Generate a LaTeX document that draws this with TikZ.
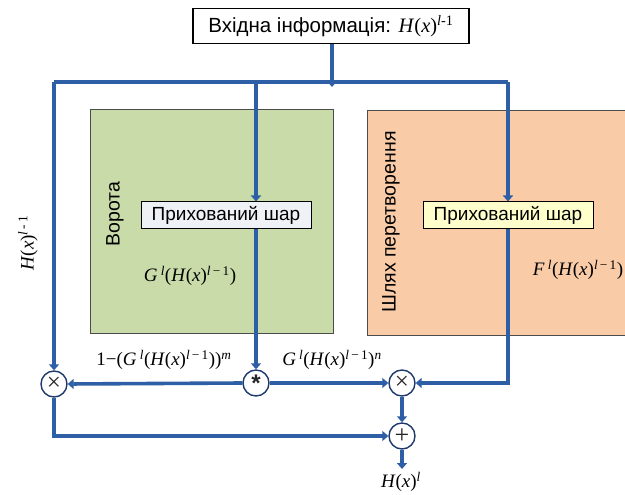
\documentclass[tikz,border=0pt]{standalone}
\usepackage{fontspec}
\setmainfont{Liberation Sans}
\newfontfamily\tm{Liberation Serif}
\usetikzlibrary{arrows.meta}
\definecolor{lineblue}{HTML}{2E5FA6}
\definecolor{circblue}{HTML}{1F3A6E}
\definecolor{gatefill}{HTML}{C9DBA8}
\definecolor{pathfill}{HTML}{F9CBA6}
\definecolor{hidgray}{HTML}{EEF2F6}
\definecolor{hidyellow}{HTML}{FFFFCC}
\newcommand\tsp[1]{\textsuperscript{#1}}
\newcommand\Hxx{\textit{H}(\textit{x})}
\tikzset{
  x=1pt,y=-1pt,
  flow/.style={draw=lineblue,line width=3.6pt},
  arr/.style={flow,-{Triangle[width=10pt,length=6pt]}},
  region/.style={draw=black!70,line width=1pt},
  hidbox/.style={draw=black,line width=1pt,minimum width=170pt,minimum height=26pt,inner sep=0pt,font=\fontsize{19}{21}\selectfont},
  op/.style={circle,draw=circblue,fill=white,line width=1.4pt,minimum size=26pt,inner sep=0pt,text=black!85},
  lbl/.style={font=\tm\fontsize{19}{21}\selectfont,inner sep=0pt},
  rot/.style={rotate=90,font=\fontsize{19.5}{21}\selectfont,inner sep=0pt}
}
\begin{document}
\begin{tikzpicture}
\useasboundingbox (0,0) rectangle (625,495);
% regions
\path[region,fill=gatefill] (90,110) rectangle (333,333);
\path[region,fill=pathfill] (367,111) rectangle (630,335);
\node[rot] (vor) at (115,214) {Ворота};
\node[rot] (shl) at (391,222) {Шлях перетворення};
% input box
\node[draw=black,line width=1.8pt,minimum width=276pt,minimum height=35pt,inner sep=0pt,font=\fontsize{20.5}{22}\selectfont] (in) at (331,26) {Вхідна інформація: {\tm\Hxx\tsp{\textit{l}-1}}};
% hidden layers
\node[hidbox,fill=hidgray] (hg) at (226,215) {Прихований шар};
\node[hidbox,fill=hidyellow] (hp) at (508,215) {Прихований шар};
% operators
\node[op] (m1) at (54,384) {\tm\fontsize{25}{25}\selectfont×};
\node[op] (st) at (256,383) {\bfseries\fontsize{24}{24}\selectfont\raisebox{-7pt}{*}};
\node[op] (m2) at (402,383) {\tm\fontsize{25}{25}\selectfont×};
\node[op] (pl) at (402,436) {\tm\fontsize{26}{26}\selectfont+};
% coordinates
\coordinate (top) at (332,82);
\coordinate (tl) at (54,82);
\coordinate (tr) at (508,82);
\coordinate (tg) at (256,82);
\coordinate (br) at (508,383);
\coordinate (bl) at (54,436);
\coordinate (out) at (402,469);
% connectors
\draw[arr] (in.south -| top) -- ([yshift=-5pt]top);
\draw[flow] (tl) -- (tr);
\draw[arr] (tl) -- (m1.north);
\draw[arr] (tg) -- (hg.north -| tg);
\draw[arr] (tr) -- (hp.north -| tr);
\draw[arr] (hg.south -| st) -- (st.north);
\draw[arr] (hp.south -| br) -- (br) -- (m2.east);
\draw[arr] (st.west) -- (m1.east);
\draw[arr] (st.east) -- (m2.west);
\draw[arr] (m2.south) -- (pl.north);
\draw[arr] (m1.south) -- (bl) -- (pl.west);
\draw[arr] (pl.south) -- (out);
% labels
\node[lbl] (lg) at (190,276) {\textit{G}\,\tsp{\textit{l}}(\Hxx\tsp{\textit{l}\,−\,1})};
\node[lbl] (lf) at (578,270) {\textit{F}\,\tsp{\textit{l}}(\Hxx\tsp{\textit{l}\,−\,1})};
\node[lbl] (l1) at (164,360) {1−(\textit{G}\,\tsp{\textit{l}}(\Hxx\tsp{\textit{l}\,−\,1}))\tsp{\textit{m}}};
\node[lbl] (l2) at (332,360) {\textit{G}\,\tsp{\textit{l}}(\Hxx\tsp{\textit{l}\,−\,1})\tsp{\textit{n}}};
\node[lbl,rotate=90] (lh) at (28,243) {\Hxx\tsp{\textit{l}\,-\,1}};
\node[lbl] (lo) at (401,482) {\Hxx\tsp{\textit{l}}};
\end{tikzpicture}
\end{document}
